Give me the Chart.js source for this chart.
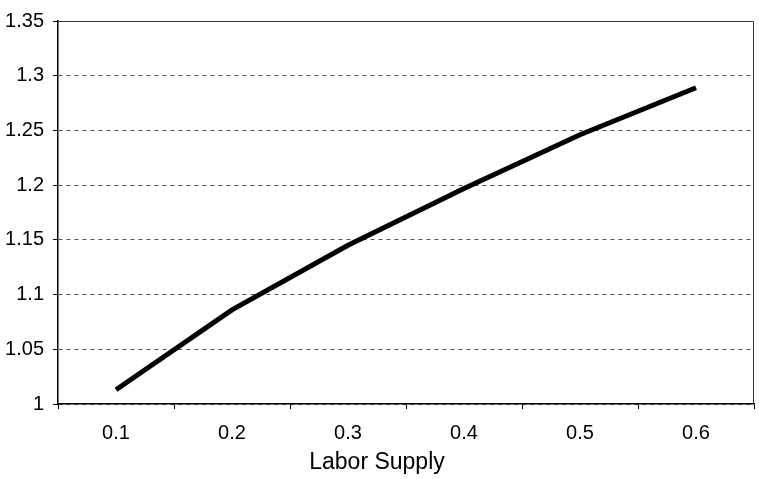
<!DOCTYPE html>
<html lang="en">
<head>
    <meta charset="UTF-8">
    <title>Labor Supply</title>
    <style>
        html, body { margin: 0; padding: 0; background: #fff; }
        #wrap { width: 759px; height: 479px; }
    </style>
</head>
<body>
    <div id="wrap">
        <canvas id="laborChart" width="759" height="479"></canvas>
    </div>
    <script src="https://cdn.jsdelivr.net/npm/chart.js"></script>
    <script>
        // values
        const categories = ['0.1', '0.2', '0.3', '0.4', '0.5', '0.6'];
        const seriesValues = [1.013, 1.086, 1.145, 1.197, 1.246, 1.289];
        const yTicks = [1, 1.05, 1.1, 1.15, 1.2, 1.25, 1.3, 1.35];
        const xTitle = 'Labor Supply';

        const fontFamily = 'Liberation Sans, Arial, sans-serif';

        // thin frame on top and right of the plot area
        const frame = {
            id: 'frame',
            afterDraw(chart) {
                const a = chart.chartArea;
                const ctx = chart.ctx;
                ctx.save();
                ctx.strokeStyle = '#333';
                ctx.lineWidth = 1;
                ctx.beginPath();
                ctx.moveTo(a.left, a.top + 0.5);
                ctx.lineTo(a.right - 0.5, a.top + 0.5);
                ctx.lineTo(a.right - 0.5, a.bottom);
                ctx.stroke();
                ctx.restore();
            }
        };

        new Chart(document.getElementById('laborChart'), {
            type: 'line',
            data: {
                labels: categories,
                datasets: [{
                    data: seriesValues,
                    borderColor: '#000',
                    borderWidth: 5,
                    pointRadius: 0,
                    tension: 0,
                    fill: false
                }]
            },
            options: {
                responsive: false,
                animation: false,
                layout: { padding: { top: 14, right: 5, left: 0, bottom: 0 } },
                plugins: {
                    legend: { display: false },
                    tooltip: { enabled: false },
                    // chart title at the bottom is centred on the whole canvas, like the original
                    title: {
                        display: true,
                        position: 'bottom',
                        text: xTitle,
                        color: '#000',
                        padding: { top: 0, bottom: 3 },
                        font: { family: fontFamily, size: 23, weight: 'normal' }
                    }
                },
                scales: {
                    x: {
                        type: 'category',
                        offset: true,
                        grid: {
                            offset: true,
                            drawOnChartArea: false,
                            tickLength: 5,
                            tickColor: '#000',
                            lineWidth: 1
                        },
                        border: { color: '#000', width: 1.5 },
                        ticks: {
                            color: '#000',
                            padding: 12,
                            font: { family: fontFamily, size: 20 }
                        },
                        afterFit(scale) { scale.height = 44.4; }
                    },
                    y: {
                        min: yTicks[0],
                        max: yTicks[yTicks.length - 1],
                        afterBuildTicks(scale) {
                            scale.ticks = yTicks.map(v => ({ value: v }));
                        },
                        grid: {
                            color: '#555',
                            lineWidth: 1,
                            tickLength: 5,
                            tickColor: '#000',
                            tickBorderDash: [1, 0]
                        },
                        border: { color: '#000', width: 1.5, dash: [4, 4] },
                        ticks: {
                            color: '#000',
                            padding: 9,
                            font: { family: fontFamily, size: 20 },
                            callback: v => String(Number(v.toFixed(2)))
                        },
                        afterFit(scale) { scale.width = 58; }
                    }
                }
            },
            plugins: [frame]
        });
    </script>
</body>
</html>
